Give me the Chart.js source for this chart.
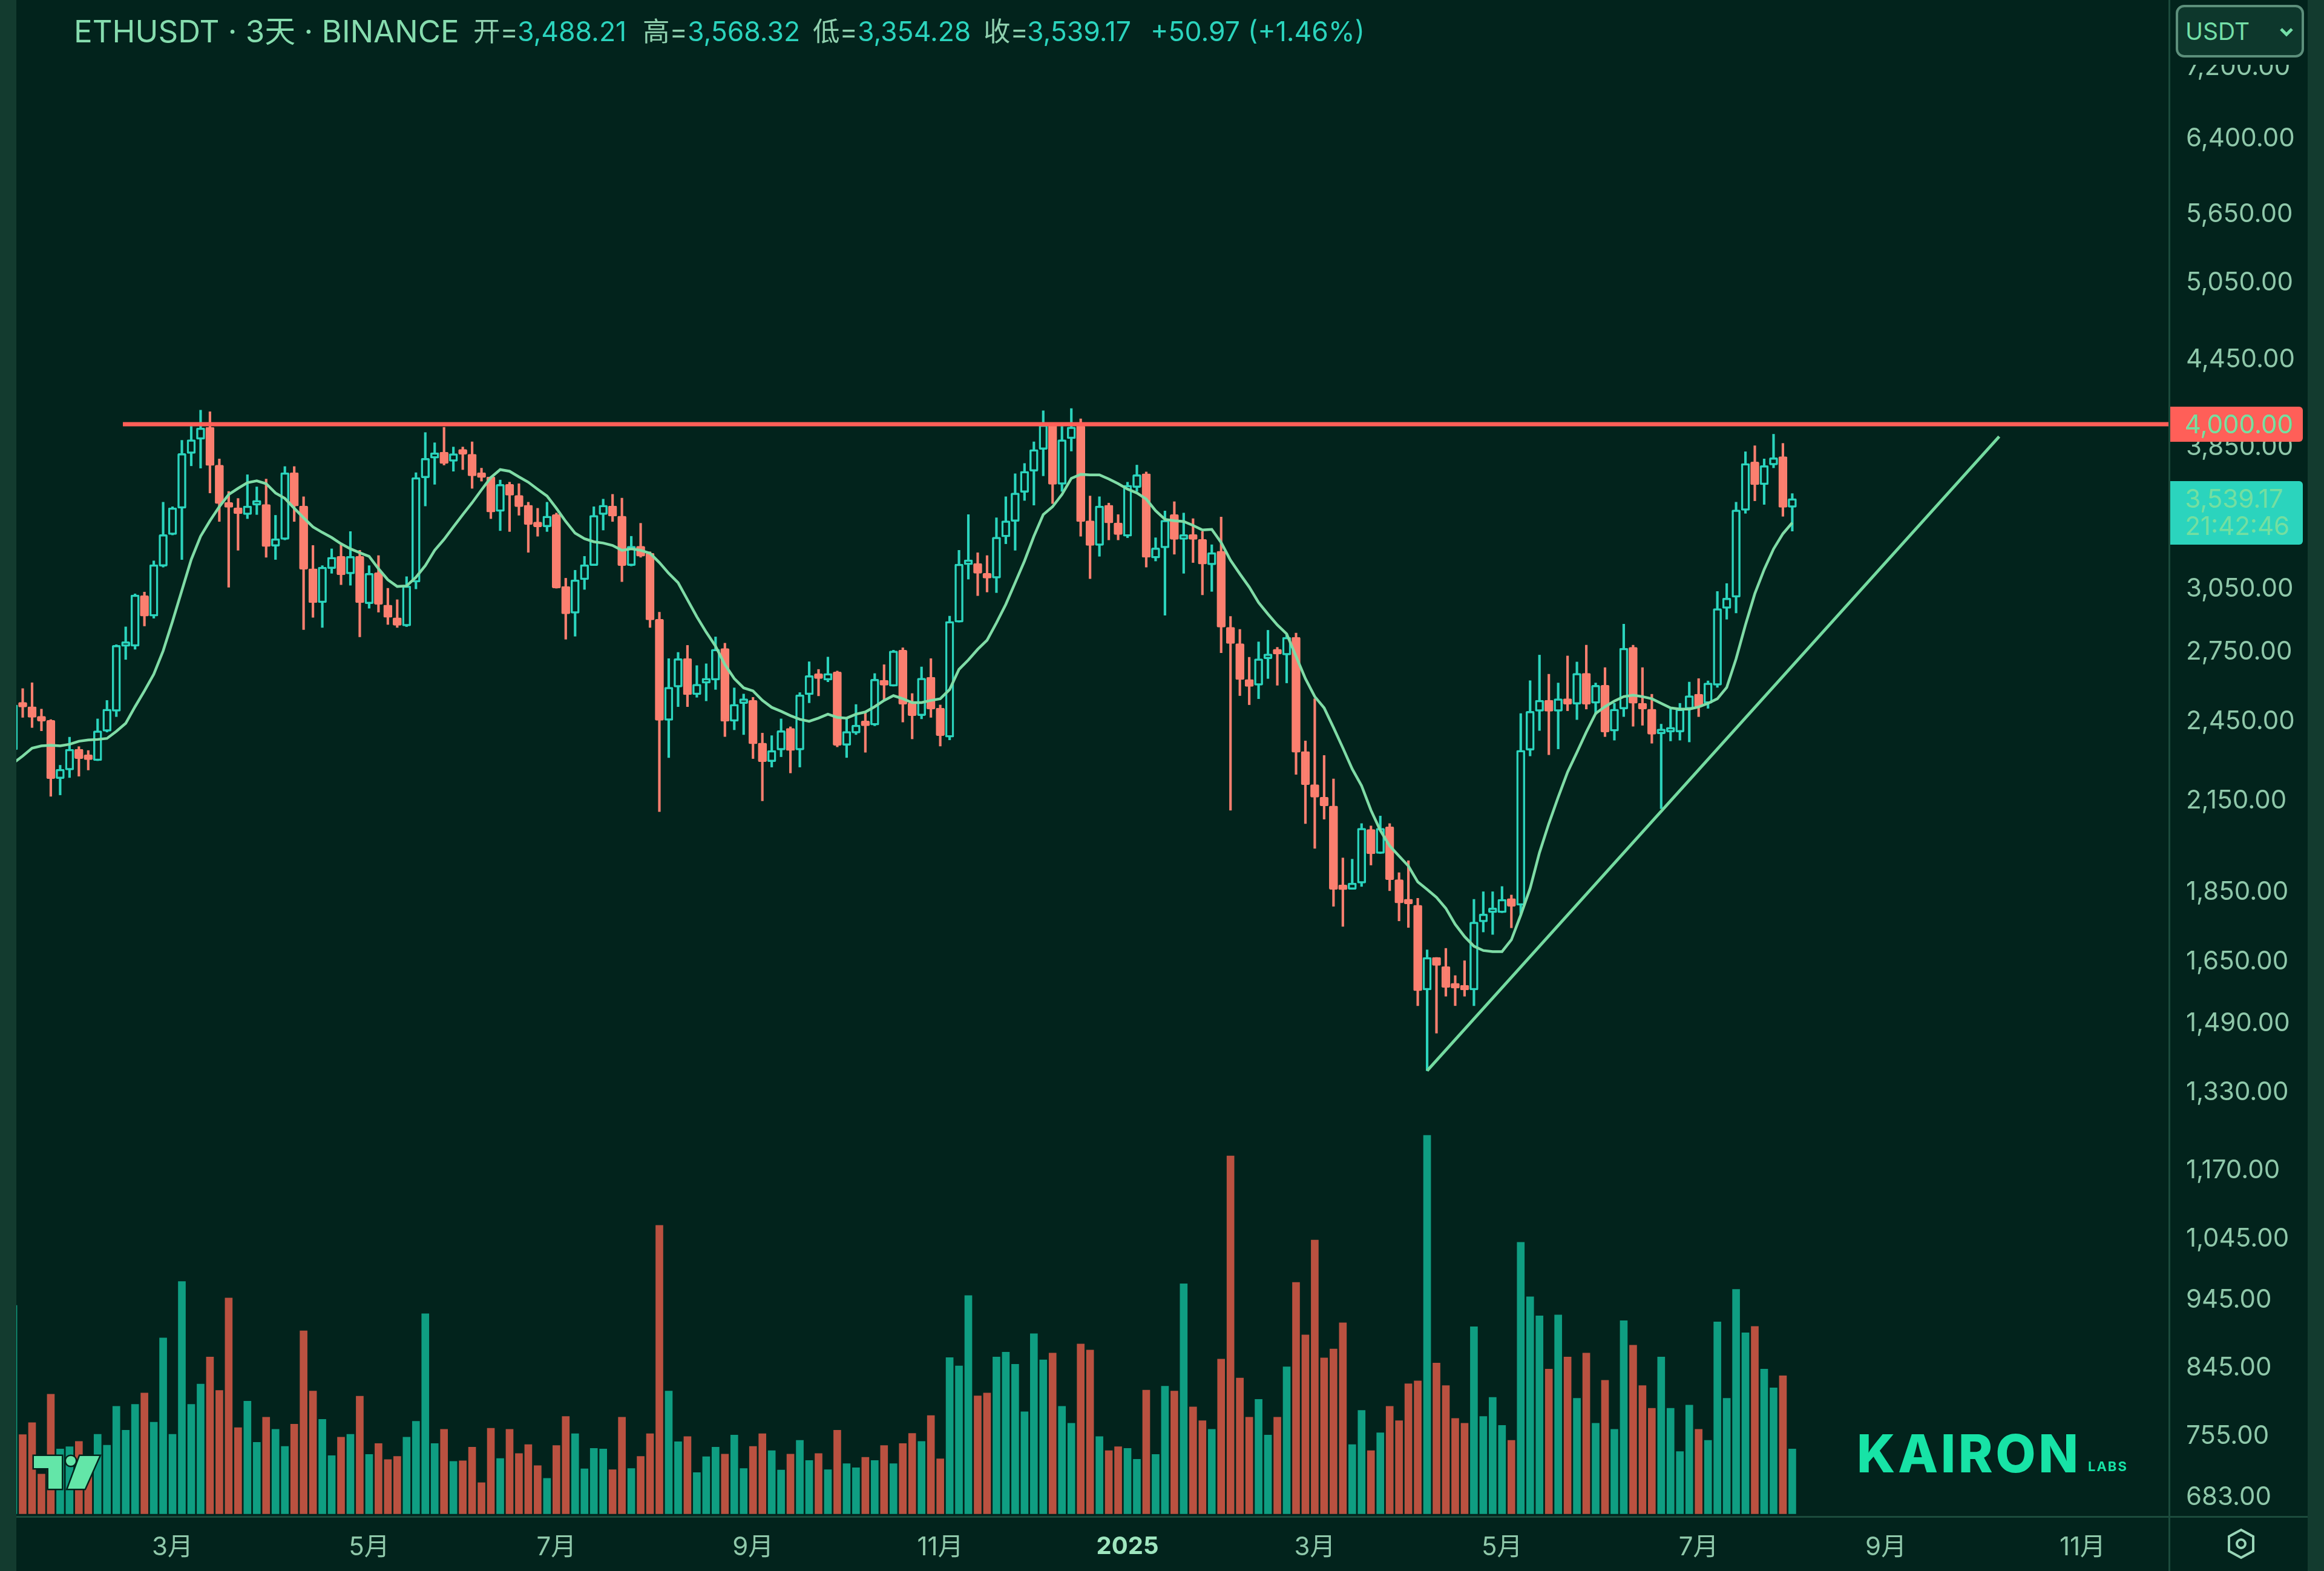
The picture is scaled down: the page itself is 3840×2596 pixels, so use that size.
<!DOCTYPE html>
<html lang="zh">
<head>
<meta charset="utf-8">
<title>ETHUSDT 3天</title>
<script src="https://cdn.jsdelivr.net/npm/chart.js@4/dist/chart.umd.min.js"></script>
<style>
  html, body { margin: 0; padding: 0; background: #02231c; }
  #wrap { position: relative; width: 3840px; height: 2596px; overflow: hidden; font-family: Inter, "Noto Sans CJK SC", sans-serif; }
  canvas { position: absolute; left: 0; top: 0; }
  .head { position: absolute; top: 22px; font-size: 44.5px; line-height: 60px; white-space: nowrap; color: #2bd4bd; }
  .head.lab { color: #8fd0ae; }
  .head.title { font-size: 51px; color: #86dcae; top: 22px; }
  #axisCover { position: absolute; left: 3586px; top: 0; width: 227px; height: 107px; background: #02231c; }
  #usdtBox { position: absolute; left: 3595px; top: 8px; width: 212px; height: 87px; box-sizing: border-box; border: 4px solid #5c8f7b; border-radius: 14px; background: #0d372c; color: #74dfa8; font-size: 39px; line-height: 79px; padding-left: 12px; }
  #usdtBox svg { position: absolute; right: 12px; top: 32px; }
  .priceTag { position: absolute; left: 3586px; width: 219px; box-sizing: border-box; padding-left: 24px; font-size: 42px; border-radius: 0 6px 6px 0; color: #74dfa0; }
  #resistTag { top: 672px; height: 58px; line-height: 58px; background: #ff5f58; }
  #lastTag { top: 795px; height: 105px; line-height: 45px; padding-top: 6px; background: #2bd4bd; }
  #kairon { position: absolute; left: 3068px; top: 2352px; font-size: 86px; line-height: 100px; font-weight: 800; letter-spacing: 4.5px; color: #17e3a6; }
  #labs { position: absolute; left: 3450px; top: 2411px; font-size: 22px; line-height: 24px; font-weight: 700; letter-spacing: 2px; color: #17e3a6; }
  #tvLogo, #gear { position: absolute; }
</style>
</head>
<body>
<div id="wrap">
  <canvas id="chart" width="3840" height="2596"></canvas>

  <div class="head title" style="left:122px">ETHUSDT · 3天 · BINANCE</div>
  <div class="head lab" style="left:782px">开=</div><div class="head" style="left:855px">3,488.21</div>
  <div class="head lab" style="left:1062px">高=</div><div class="head" style="left:1136px">3,568.32</div>
  <div class="head lab" style="left:1343px">低=</div><div class="head" style="left:1417px">3,354.28</div>
  <div class="head lab" style="left:1625px">收=</div><div class="head" style="left:1697px">3,539.17</div>
  <div class="head" style="left:1901px">+50.97</div>
  <div class="head" style="left:2062px">(+1.46%)</div>

  <div id="axisCover"></div>
  <div id="usdtBox">USDT
    <svg width="26" height="18" viewBox="0 0 26 18"><path d="M4 4 L13 13 L22 4" fill="none" stroke="#74dfa8" stroke-width="5"/></svg>
  </div>
  <div class="priceTag" id="resistTag">4,000.00</div>
  <div class="priceTag" id="lastTag">3,539.17<br>21:42:46</div>

  <svg id="tvLogo" style="left:50px;top:2396px" width="120" height="70" viewBox="0 0 120 70">
    <g fill="#63e6a8" stroke="#02231c" stroke-width="5" paint-order="stroke">
      <path d="M6 10 H52 V64 H30 V30 H6 Z"/>
      <circle cx="67" cy="18" r="8"/>
      <path d="M82 10 H114 L90 64 H62 Z"/>
    </g>
  </svg>
  <div id="kairon">KAIRON</div>
  <div id="labs">LABS</div>

  <svg id="gear" style="left:3677px;top:2524px" width="52" height="54" viewBox="0 0 52 54">
    <path d="M26 4 L46 15 V39 L26 50 L6 39 V15 Z" fill="none" stroke="#9ad6b8" stroke-width="4"/>
    <circle cx="26" cy="27" r="7" fill="none" stroke="#9ad6b8" stroke-width="4"/>
  </svg>
</div>

<script>
// prices, one entry per 3 day candle
const opens = [
  2340, 2525, 2512, 2471, 2456, 2231, 2263, 2342, 2316, 2298,
  2412, 2493, 2774, 2775, 3016, 2916, 3166, 3335, 3483, 3812,
  3902, 3980, 3740, 3515, 3486, 3447, 3501, 3505, 3272, 3309,
  3693, 3496, 3153, 2981, 3153, 3218, 3126, 3218, 2976, 3132,
  2970, 2908, 2869, 3084, 3662, 3782, 3821, 3763, 3823, 3807,
  3683, 3668, 3465, 3623, 3558, 3501, 3391, 3378, 3447, 3062,
  2930, 3096, 3169, 3447, 3496, 3438, 3169, 3272, 3234, 2901,
  2456, 2594, 2719, 2562, 2611, 2624, 2765, 2452, 2525, 2538,
  2366, 2294, 2339, 2424, 2339, 2562, 2644, 2624, 2660, 2357,
  2405, 2446, 2437, 2624, 2598, 2757, 2528, 2475, 2637, 2506,
  2389, 2887, 3174, 3180, 3129, 3104, 3323, 3408, 3575, 3702,
  3837, 4000, 3623, 3906, 3990, 3412, 3276, 3501, 3400, 3326,
  3604, 3687, 3209, 3263, 3447, 3309, 3323, 3309, 3173, 3245,
  2863, 2787, 2627, 2602, 2718, 2754, 2735, 2816, 2333, 2209,
  2164, 2133, 1864, 1859, 1878, 2052, 1972, 2061, 1889, 1822,
  1811, 1575, 1662, 1637, 1584, 1582, 1575, 1762, 1789, 1789,
  1831, 1811, 2338, 2493, 2539, 2493, 2545, 2522, 2654, 2526,
  2602, 2413, 2502, 2770, 2526, 2502, 2402, 2409, 2409, 2502,
  2564, 2526, 2602, 2953, 3008, 3471, 3759, 3621, 3740, 3792,
  3488.21
];
const closes = [
  2519, 2510, 2468, 2453, 2231, 2266, 2342, 2306, 2302, 2414,
  2502, 2779, 2785, 3020, 2916, 3174, 3335, 3486, 3812, 3900,
  3976, 3737, 3510, 3488, 3452, 3496, 3515, 3270, 3313, 3693,
  3496, 3150, 2981, 3161, 3213, 3121, 3218, 2981, 3129, 2973,
  2910, 2872, 3065, 3664, 3782, 3817, 3750, 3811, 3807, 3674,
  3664, 3461, 3623, 3558, 3492, 3391, 3378, 3438, 3054, 2927,
  3096, 3174, 3443, 3501, 3438, 3169, 3272, 3218, 2898, 2456,
  2594, 2719, 2562, 2607, 2628, 2761, 2452, 2522, 2536, 2363,
  2294, 2337, 2415, 2337, 2562, 2644, 2631, 2653, 2357, 2412,
  2437, 2434, 2628, 2602, 2754, 2522, 2475, 2633, 2502, 2395,
  2891, 3177, 3188, 3129, 3104, 3321, 3412, 3572, 3702, 3837,
  3996, 3623, 3900, 3982, 3407, 3276, 3496, 3400, 3335, 3618,
  3681, 3213, 3263, 3415, 3309, 3323, 3309, 3177, 3238, 2863,
  2787, 2627, 2597, 2718, 2739, 2739, 2816, 2330, 2209, 2164,
  2133, 1859, 1858, 1879, 2056, 1971, 2056, 1889, 1818, 1815,
  1573, 1662, 1640, 1582, 1580, 1575, 1762, 1785, 1795, 1829,
  1808, 2338, 2493, 2539, 2493, 2545, 2522, 2654, 2522, 2602,
  2409, 2502, 2766, 2526, 2502, 2400, 2413, 2418, 2502, 2558,
  2511, 2612, 2953, 3004, 3474, 3750, 3621, 3737, 3786, 3488,
  3539.17
];
const highs = [
  2530, 2588, 2613, 2502, 2459, 2281, 2389, 2352, 2337, 2462,
  2538, 2782, 2865, 3025, 3034, 3194, 3518, 3492, 3896, 3986,
  4094, 4084, 3778, 3581, 3540, 3681, 3608, 3655, 3443, 3731,
  3731, 3550, 3276, 3169, 3258, 3279, 3352, 3250, 3169, 3222,
  3053, 2996, 3112, 3693, 3946, 3880, 3980, 3853, 3853, 3886,
  3721, 3668, 3649, 3636, 3627, 3518, 3483, 3518, 3456, 3104,
  3145, 3218, 3492, 3536, 3564, 3542, 3326, 3398, 3242, 2935,
  2719, 2747, 2779, 2688, 2696, 2818, 2789, 2591, 2565, 2551,
  2405, 2395, 2462, 2430, 2571, 2705, 2671, 2726, 2664, 2465,
  2521, 2487, 2653, 2692, 2757, 2768, 2567, 2682, 2719, 2519,
  2916, 3250, 3447, 3237, 3222, 3429, 3550, 3687, 3750, 3886,
  4090, 4006, 3986, 4105, 4036, 3554, 3550, 3513, 3447, 3636,
  3740, 3698, 3318, 3468, 3521, 3456, 3424, 3352, 3280, 3433,
  2915, 2853, 2725, 2795, 2849, 2770, 2832, 2836, 2374, 2545,
  2318, 2230, 1958, 1954, 2072, 2064, 2098, 2072, 1911, 1949,
  1832, 1683, 1662, 1687, 1613, 1653, 1829, 1852, 1852, 1868,
  1842, 2484, 2622, 2735, 2650, 2612, 2731, 2704, 2780, 2612,
  2679, 2526, 2878, 2780, 2679, 2564, 2441, 2502, 2526, 2616,
  2631, 2621, 3037, 3077, 3518, 3823, 3861, 3778, 3935, 3876,
  3568.32
];
const lows = [
  2330, 2468, 2427, 2414, 2167, 2172, 2235, 2240, 2263, 2298,
  2409, 2471, 2715, 2761, 2869, 2906, 3161, 3333, 3201, 3735,
  3721, 3572, 3408, 3058, 3250, 3424, 3447, 3213, 3201, 3306,
  3408, 2852, 2910, 2862, 3129, 3071, 3068, 2818, 2954, 2935,
  2876, 2862, 2866, 3050, 3496, 3623, 3740, 3702, 3712, 3599,
  3642, 3424, 3357, 3352, 3443, 3239, 3326, 3352, 3053, 2807,
  2821, 3047, 3169, 3360, 3408, 3086, 3167, 3213, 2862, 2113,
  2310, 2512, 2512, 2551, 2536, 2584, 2391, 2418, 2399, 2306,
  2151, 2274, 2313, 2252, 2274, 2528, 2557, 2617, 2351, 2310,
  2399, 2330, 2434, 2538, 2598, 2449, 2382, 2462, 2468, 2354,
  2378, 2887, 3099, 3016, 3034, 3031, 3285, 3250, 3528, 3501,
  3674, 3510, 3581, 3827, 3326, 3102, 3218, 3306, 3306, 3318,
  3581, 3161, 3193, 2920, 3229, 3129, 3185, 3020, 3037, 2745,
  2118, 2558, 2520, 2545, 2631, 2602, 2612, 2247, 2072, 1989,
  2087, 1808, 1749, 1859, 1868, 1935, 1972, 1855, 1765, 1746,
  1535, 1379, 1467, 1559, 1535, 1559, 1535, 1733, 1726, 1789,
  1745, 1785, 2316, 2415, 2321, 2343, 2495, 2459, 2502, 2480,
  2391, 2377, 2471, 2432, 2436, 2365, 2123, 2374, 2377, 2370,
  2471, 2505, 2593, 2901, 2931, 3454, 3526, 3505, 3723, 3437,
  3354.28
];
// moving average drawn over the candles
const maValues = [
  2289, 2316, 2346, 2355, 2357, 2355, 2361, 2373, 2378, 2380,
  2384, 2412, 2444, 2512, 2578, 2650, 2754, 2891, 3042, 3201,
  3326, 3412, 3492, 3563, 3599, 3633, 3644, 3627, 3572, 3540,
  3483, 3429, 3378, 3347, 3319, 3285, 3258, 3237, 3218, 3153,
  3096, 3062, 3065, 3109, 3169, 3250, 3309, 3378, 3447, 3515,
  3590, 3664, 3712, 3702, 3668, 3636, 3594, 3554, 3483, 3408,
  3343, 3313, 3296, 3289, 3276, 3250, 3258, 3250, 3234, 3185,
  3129, 3081, 2996, 2913, 2840, 2775, 2692, 2631, 2591, 2578,
  2538, 2509, 2493, 2475, 2460, 2452, 2465, 2481, 2468, 2465,
  2481, 2490, 2512, 2538, 2558, 2545, 2529, 2529, 2538, 2545,
  2584, 2671, 2713, 2761, 2803, 2884, 2973, 3081, 3194, 3326,
  3447, 3492, 3563, 3659, 3683, 3680, 3680, 3655, 3627, 3595,
  3572, 3536, 3469, 3420, 3412, 3408, 3386, 3361, 3364, 3292,
  3197, 3126, 3059, 2982, 2926, 2874, 2832, 2729, 2631, 2554,
  2507, 2427, 2347, 2267, 2205, 2118, 2049, 1997, 1964, 1932,
  1882, 1859, 1835, 1802, 1755, 1720, 1693, 1681, 1678, 1678,
  1711, 1782, 1862, 1975, 2072, 2164, 2255, 2330, 2409, 2484,
  2512, 2535, 2554, 2560, 2554, 2545, 2526, 2507, 2502, 2502,
  2511, 2526, 2545, 2593, 2718, 2874, 3026, 3149, 3257, 3340,
  3401
];
const volumes = [
  723, 275, 316, 138, 415, 225, 233, 251, 148, 276,
  238, 373, 290, 380, 419, 318, 610, 276, 806, 380,
  450, 544, 428, 749, 299, 391, 248, 335, 293, 234,
  311, 635, 426, 328, 202, 266, 276, 408, 206, 244,
  188, 199, 266, 321, 694, 244, 293, 182, 184, 231,
  108, 297, 192, 293, 209, 240, 167, 123, 237, 338,
  278, 156, 227, 225, 153, 335, 157, 199, 278, 1001,
  426, 250, 268, 143, 198, 231, 207, 273, 157, 234,
  278, 219, 152, 207, 255, 185, 209, 153, 290, 174,
  160, 196, 185, 237, 174, 244, 279, 251, 341, 191,
  542, 513, 757, 409, 419, 544, 561, 519, 354, 625,
  534, 558, 373, 314, 589, 568, 268, 219, 233, 227,
  189, 429, 206, 443, 426, 798, 371, 323, 293, 537,
  1242, 471, 335, 397, 273, 335, 510, 803, 621, 950,
  541, 572, 663, 240, 359, 219, 281, 373, 323, 451,
  461, 1313, 523, 445, 331, 314, 649, 338, 404, 307,
  255, 942, 753, 687, 502, 690, 544, 401, 558, 314,
  463, 293, 670, 585, 445, 366, 544, 366, 216, 377,
  293, 255, 666, 401, 779, 628, 650, 502, 437, 479,
  225
];

const priceTicks = [7200, 6400, 5650, 5050, 4450, 3850, 3050, 2750, 2450, 2150, 1850, 1650, 1490, 1330, 1170, 1045, 945, 845, 755, 683];
const timeTickBars = [17, 38, 58, 79, 99, 119, 139, 159, 180, 200, 221];
const timeTickLabels = ["3月", "5月", "7月", "9月", "11月", "2025", "3月", "5月", "7月", "9月", "11月"];

const resistanceLevel = 4000;
const resistanceStartBar = 11.7;
const trendBars = [151, 212.1];
const trendPrices = [1379, 3920];

const COLORS = {
  bg: "#02231c",
  strip: "#133b2f",
  axisLine: "#1c4b3c",
  up: "#2bd4bd",
  down: "#fb7f6f",
  volUp: "#0f9e82",
  volDown: "#ba5140",
  ma: "#7fdca6",
  trend: "#74dba0",
  resistance: "#ff5f58",
  tick: "#8fc8aa",
  tickBold: "#9fe6bf"
};

const bars = opens.map((_, i) => i);
const isUp = (i) => closes[i] >= opens[i];
const lastBarX = 230.18;

const wickData = bars.map((i) => ({ x: i, y: [lows[i], highs[i]] }));
const bodyData = bars.map((i) => ({ x: i, y: [opens[i], closes[i]] }));
const volumeData = bars.map((i) => ({ x: i, y: volumes[i] }));
const maData = bars.map((i) => ({ x: i, y: maValues[i] }));

const framePlugin = {
  id: "frame",
  beforeDraw(chart) {
    const { ctx, chartArea, width, height } = chart;
    ctx.save();
    ctx.fillStyle = COLORS.bg;
    ctx.fillRect(0, 0, width, height);
    ctx.fillStyle = COLORS.strip;
    ctx.fillRect(0, 0, chartArea.left, height);
    ctx.fillRect(3813, 0, width - 3813, height);
    ctx.fillStyle = COLORS.axisLine;
    ctx.fillRect(chartArea.right, 0, 3, height);
    ctx.fillRect(chartArea.left, chartArea.bottom, 3813 - chartArea.left, 3);
    ctx.restore();
  }
};

new Chart(document.getElementById("chart"), {
  type: "bar",
  data: {
    datasets: [
      {
        type: "line",
        data: [{ x: resistanceStartBar, y: resistanceLevel }, { x: lastBarX, y: resistanceLevel }],
        borderColor: COLORS.resistance,
        borderWidth: 7,
        pointRadius: 0,
        order: 1
      },
      {
        type: "line",
        data: trendBars.map((x, i) => ({ x, y: trendPrices[i] })),
        borderColor: COLORS.trend,
        borderWidth: 5,
        pointRadius: 0,
        order: 2
      },
      {
        type: "line",
        data: maData,
        borderColor: COLORS.ma,
        borderWidth: 4.5,
        pointRadius: 0,
        tension: 0,
        order: 3
      },
      {
        data: bodyData,
        barThickness: 14,
        minBarLength: 8,
        grouped: false,
        borderWidth: 3.5,
        borderSkipped: false,
        borderRadius: 2,
        backgroundColor: (c) => (isUp(c.dataIndex) ? COLORS.bg : COLORS.down),
        borderColor: (c) => (isUp(c.dataIndex) ? COLORS.up : COLORS.down),
        order: 4
      },
      {
        data: wickData,
        barThickness: 3.5,
        grouped: false,
        backgroundColor: (c) => (isUp(c.dataIndex) ? COLORS.up : COLORS.down),
        order: 5
      },
      {
        data: volumeData,
        yAxisID: "vol",
        barThickness: 12,
        grouped: false,
        backgroundColor: (c) => (isUp(c.dataIndex) ? COLORS.volUp : COLORS.volDown),
        order: 6
      }
    ]
  },
  options: {
    responsive: false,
    animation: false,
    events: [],
    layout: { padding: { left: 27, top: 0, right: 0, bottom: 0 } },
    plugins: { legend: { display: false }, tooltip: { enabled: false } },
    scales: {
      x: {
        type: "linear",
        offset: false,
        min: 0.32,
        max: lastBarX,
        grid: { display: false },
        border: { display: false },
        afterBuildTicks(scale) {
          scale.ticks = timeTickBars.map((value) => ({ value }));
        },
        afterFit(scale) {
          scale.height = 91;
          scale.paddingLeft = 0;
          scale.paddingRight = 0;
        },
        ticks: {
          autoSkip: false,
          maxRotation: 0,
          padding: 19,
          callback: (value) => timeTickLabels[timeTickBars.indexOf(value)],
          font: (c) => (c.tick && c.tick.label === "2025"
            ? { family: 'Inter, "Noto Sans CJK SC"', size: 40, weight: "bold" }
            : { family: 'Inter, "Noto Sans CJK SC"', size: 42, weight: "normal" }),
          color: (c) => (c.tick && c.tick.label === "2025" ? COLORS.tickBold : COLORS.tick)
        }
      },
      y: {
        type: "logarithmic",
        position: "right",
        min: 662.3,
        max: 8046,
        grid: { display: false },
        border: { display: false },
        afterBuildTicks(scale) {
          scale.ticks = priceTicks.map((value) => ({ value }));
        },
        afterFit(scale) {
          scale.width = 257;
          // no room for half labels, the axis runs right up to the edge
          scale.paddingTop = 0;
          scale.paddingBottom = 0;
        },
        ticks: {
          autoSkip: false,
          padding: 21,
          callback: (value) => value.toLocaleString("en-US", { minimumFractionDigits: 2, maximumFractionDigits: 2 }),
          font: { family: "Inter", size: 42 },
          color: COLORS.tick
        }
      },
      vol: {
        display: false,
        type: "linear",
        min: -7.5,
        max: 5253
      }
    }
  },
  plugins: [framePlugin]
});
</script>
</body>
</html>
